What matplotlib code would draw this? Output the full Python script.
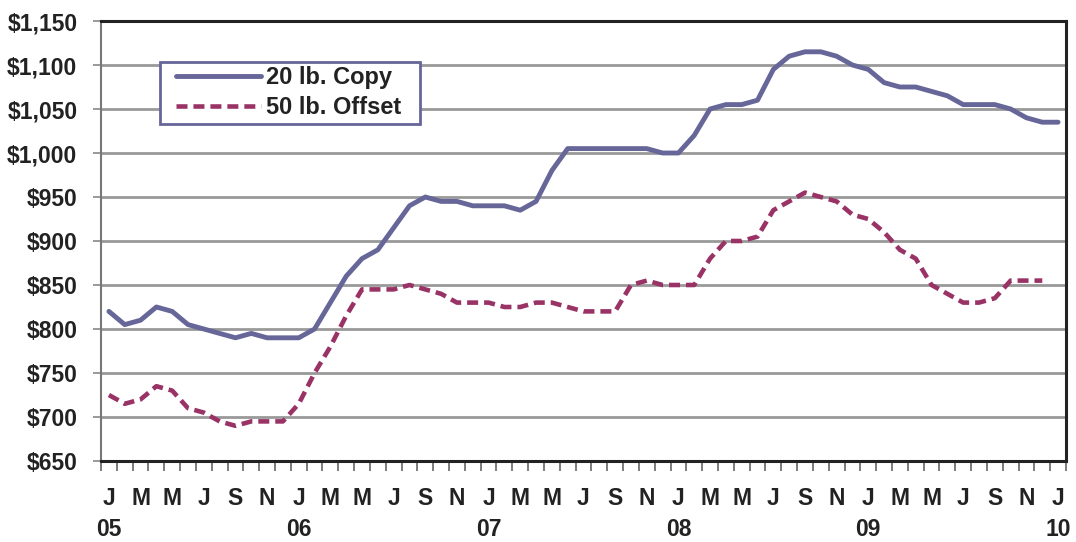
import matplotlib
matplotlib.use("Agg")
import matplotlib.pyplot as plt
from matplotlib.ticker import FuncFormatter, FixedLocator
from matplotlib.patches import Rectangle
import numpy as np

# ---- data -------------------------------------------------------------
month_letters = ["J", "F", "M", "A", "M", "J", "J", "A", "S", "O", "N", "D"]
year_labels = ["05", "06", "07", "08", "09", "10"]

copy_20lb = [820, 805, 810, 825, 820, 805, 800, 795, 790, 795, 790, 790,
             790, 800, 830, 860, 880, 890, 915, 940, 950, 945, 945, 940,
             940, 940, 935, 945, 980, 1005, 1005, 1005, 1005, 1005, 1005, 1000,
             1000, 1020, 1050, 1055, 1055, 1060, 1095, 1110, 1115, 1115, 1110, 1100,
             1095, 1080, 1075, 1075, 1070, 1065, 1055, 1055, 1055, 1050, 1040, 1035,
             1035]

offset_50lb = [725, 715, 720, 735, 730, 710, 705, 695, 690, 695, 695, 695,
               715, 750, 780, 815, 845, 845, 845, 850, 845, 840, 830, 830,
               830, 825, 825, 830, 830, 825, 820, 820, 820, 850, 855, 850,
               850, 850, 880, 900, 900, 905, 935, 945, 955, 950, 945, 930,
               925, 910, 890, 880, 850, 840, 830, 830, 835, 855, 855, 855]

series_names = ["20 lb. Copy", "50 lb. Offset"]
y_ticks = [650, 700, 750, 800, 850, 900, 950, 1000, 1050, 1100, 1150]

# ---- figure -----------------------------------------------------------
plt.rcParams['font.family'] = ['Liberation Sans', 'DejaVu Sans']
W, H = 1076, 542
fig = plt.figure(figsize=(W / 100, H / 100), dpi=100)
ax = fig.add_axes([101 / W, 1 - 461 / H, (1066 - 101) / W, (461 - 21) / H])

COPY_C = "#666699"
OFF_C = "#993366"

x_copy = np.arange(len(copy_20lb))
x_off = np.arange(len(offset_50lb))

ax.plot(x_copy, copy_20lb, color=COPY_C, lw=3.5, solid_joinstyle='round',
        solid_capstyle='round', label=series_names[0], zorder=3)
ax.plot(x_off, offset_50lb, color=OFF_C, lw=3.3, dashes=(2.4, 1.3),
        dash_capstyle='butt', label=series_names[1], zorder=3)

n = len(copy_20lb)
ax.set_xlim(-0.5, n - 0.5)
ax.set_ylim(y_ticks[0], y_ticks[-1])

# gridlines
ax.set_yticks(y_ticks)
ax.yaxis.grid(True, color="#999999", lw=2.0, zorder=0)
ax.set_axisbelow(True)
ax.yaxis.set_major_formatter(FuncFormatter(lambda v, p: "${:,.0f}".format(v)))
ax.tick_params(axis='y', length=6, width=1.2, color="#888888", pad=11,
               labelsize=16.5)
for lab in ax.get_yticklabels():
    lab.set_fontweight('bold')
    lab.set_color("#222222")

# x ticks: marks at month boundaries, labels every 2 months
ax.xaxis.set_major_locator(FixedLocator(np.arange(-0.5, n, 1.0)))
ax.set_xticklabels([])
ax.tick_params(axis='x', length=7, width=1.2, color="#666666", direction='out')

trans = ax.get_xaxis_transform()
for i in range(0, n, 2):
    ax.text(i, -0.085, month_letters[i % 12], transform=trans, ha='center',
            va='center', fontsize=16.5, fontweight='bold', color="#222222",
            family=['Liberation Sans Narrow', 'Liberation Sans'])
for k, yl in enumerate(year_labels):
    ax.text(k * 12, -0.155, yl, transform=trans, ha='center', va='center',
            fontsize=16.5, fontweight='bold', color="#222222",
            family=['Liberation Sans Narrow', 'Liberation Sans'])

# spines
ax.spines['left'].set_color("#777777")
ax.spines['left'].set_linewidth(1.5)
for s in ['top', 'right', 'bottom']:
    ax.spines[s].set_color("#222222")
    ax.spines[s].set_linewidth(2.2)

# legend (frameless) + its box
leg = ax.legend(loc='upper left', bbox_to_anchor=(176 / W, 1 - 66 / H),
                bbox_transform=fig.transFigure, frameon=False,
                handlelength=3.6, handletextpad=0.2, borderpad=0,
                labelspacing=0.3, borderaxespad=0,
                prop={'weight': 'bold', 'size': 17})
for t in leg.get_texts():
    t.set_color("#222222")
box = Rectangle((160 / W, 1 - 124 / H), (420 - 160) / W, (124 - 62) / H,
                transform=fig.transFigure, facecolor='white',
                edgecolor=COPY_C, lw=2.0, zorder=4)
ax.add_artist(box)
box.set_clip_on(False)
leg.set_zorder(5)

fig.savefig("out.png", dpi=100)
